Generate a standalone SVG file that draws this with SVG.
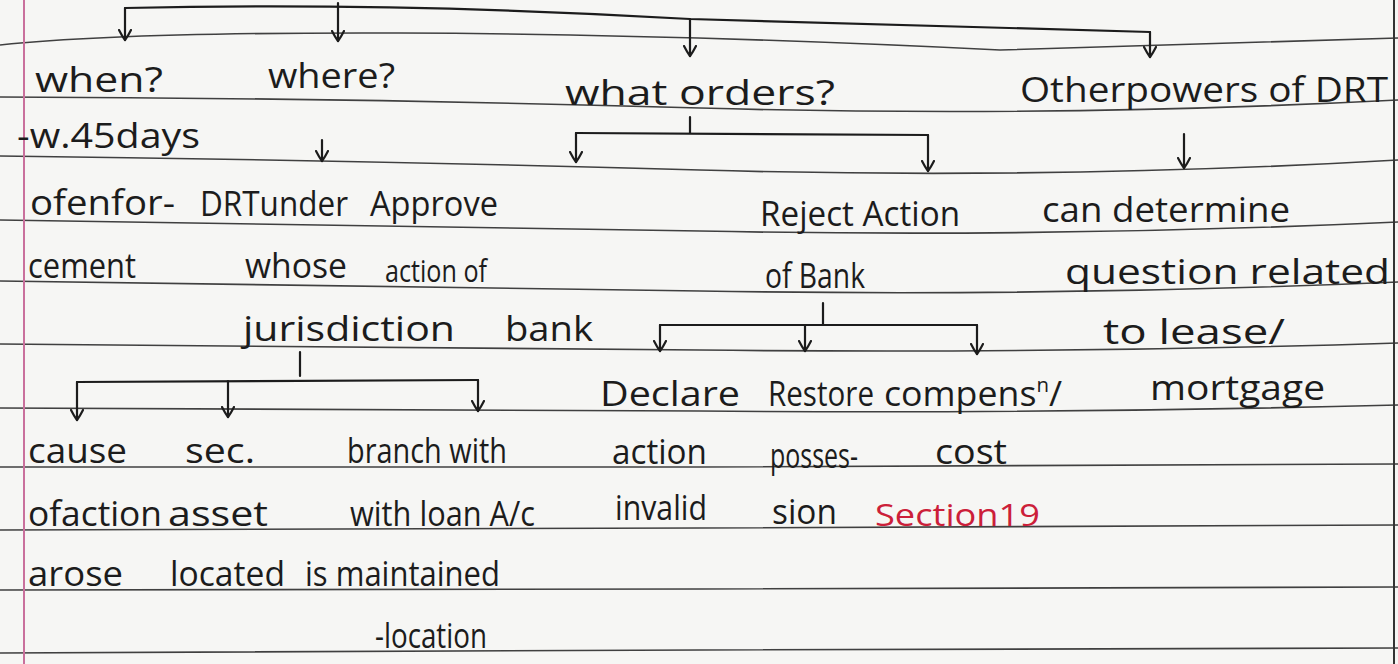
<svg xmlns="http://www.w3.org/2000/svg" width="1398" height="664" viewBox="0 0 1398 664">
<defs>
<marker id="ah" markerWidth="14" markerHeight="14" refX="11" refY="7" orient="auto" markerUnits="userSpaceOnUse" viewBox="0 0 14 14">
<path d="M1,1 Q7,4 11,7 Q7,10 1,13" fill="none" stroke="#1c1c1c" stroke-width="2.2" stroke-linecap="round" stroke-linejoin="round"/>
</marker>
<style>
.rule{fill:none;stroke:#404040;stroke-width:1.6}
.t{font-family:"Open Sans","Liberation Sans",sans-serif;font-size:35px;fill:#1c1c1c;font-weight:400}
.red{fill:#cc1f3a;font-size:31px}
.c{fill:none;stroke:#1c1c1c;stroke-width:2.2;stroke-linecap:round;stroke-linejoin:round}
.a{marker-end:url(#ah)}
</style>
</defs>
<rect width="1398" height="664" fill="#f6f6f4"/>
<g id="paper">
<path class="rule" d="M0,45 Q125,32 400,33 T1000,50 L1398,38"/>
<path class="rule" d="M0,97 Q350,98 700,108 T1398,100"/>
<path class="rule" d="M0,156 Q350,160 700,170 T1398,160"/>
<path class="rule" d="M0,220 Q350,224 700,231 T1398,222"/>
<path class="rule" d="M0,281 Q350,285 700,291 T1398,282"/>
<path class="rule" d="M0,344 Q350,346 700,350 T1398,343"/>
<path class="rule" d="M0,408 Q350,408 700,411 T1398,405"/>
<path class="rule" d="M0,467 Q350,467 700,467 T1398,464"/>
<path class="rule" d="M0,530 Q350,530 700,528 T1398,525"/>
<path class="rule" d="M0,590 Q350,590 700,589 T1398,587"/>
<path class="rule" d="M0,653 Q350,652 700,650 T1398,648"/>
<line x1="24" y1="0" x2="24" y2="664" stroke="#c9709c" stroke-width="2"/>
<line x1="1394" y1="0" x2="1394" y2="664" stroke="#333" stroke-width="2"/>
</g>
<g id="connectors">
<path class="c a" d="M125,8 L125,40"/>
<path class="c" d="M125,8 Q400,2 690,19 L1150,32"/>
<path class="c a" d="M338,3 L338,41"/>
<path class="c a" d="M690,19 L690,56"/>
<path class="c a" d="M1150,32 L1150,57"/>
<path class="c a" d="M322,140 L322,161"/>
<path class="c" d="M690,117 L690,133 M576,133 L928,135"/>
<path class="c a" d="M576,133 L576,162"/>
<path class="c a" d="M928,135 L928,171"/>
<path class="c a" d="M1184,134 L1184,168"/>
<path class="c" d="M300,352 L300,376 M77,382 L478,380"/>
<path class="c a" d="M77,382 L77,420"/>
<path class="c a" d="M228,381 L228,417"/>
<path class="c a" d="M478,380 L478,411"/>
<path class="c" d="M823,303 L823,325 M660,325 L977,325"/>
<path class="c a" d="M660,325 L660,351"/>
<path class="c a" d="M805,326 L805,351"/>
<path class="c a" d="M977,325 L977,354"/>
</g>
<g id="when">
<text class="t" x="35" y="92" textLength="128" lengthAdjust="spacingAndGlyphs">when?</text>
<text class="t" x="17" y="148" textLength="183" lengthAdjust="spacingAndGlyphs">-w.45days</text>
<text class="t" x="30" y="215" textLength="145" lengthAdjust="spacingAndGlyphs">ofenfor-</text>
<text class="t" x="28" y="278" textLength="108" lengthAdjust="spacingAndGlyphs">cement</text>
</g>
<g id="where">
<text class="t" x="268" y="88" textLength="127" lengthAdjust="spacingAndGlyphs">where?</text>
</g>
<g id="drt-jurisdiction">
<text class="t" x="200" y="216" textLength="148" lengthAdjust="spacingAndGlyphs">DRTunder</text>
<text class="t" x="245" y="278" textLength="102" lengthAdjust="spacingAndGlyphs">whose</text>
<text class="t" x="243" y="341" textLength="212" lengthAdjust="spacingAndGlyphs">jurisdiction</text>
</g>
<g id="what-orders">
<text class="t" x="565" y="105" textLength="270" lengthAdjust="spacingAndGlyphs">what orders?</text>
</g>
<g id="other-powers">
<text class="t" x="1020" y="102" textLength="368" lengthAdjust="spacingAndGlyphs">Otherpowers of DRT</text>
</g>
<g id="approve">
<text class="t" x="370" y="216" textLength="128" lengthAdjust="spacingAndGlyphs">Approve</text>
<text class="t" x="385" y="282" textLength="102" lengthAdjust="spacingAndGlyphs" style="font-size:31px">action of</text>
<text class="t" x="505" y="341" textLength="88" lengthAdjust="spacingAndGlyphs">bank</text>
</g>
<g id="reject">
<text class="t" x="760" y="226" textLength="200" lengthAdjust="spacingAndGlyphs">Reject Action</text>
<text class="t" x="765" y="288" textLength="100" lengthAdjust="spacingAndGlyphs">of Bank</text>
</g>
<g id="determine">
<text class="t" x="1042" y="222" textLength="248" lengthAdjust="spacingAndGlyphs">can determine</text>
<text class="t" x="1065" y="284" textLength="325" lengthAdjust="spacingAndGlyphs">question related</text>
<text class="t" x="1103" y="344" textLength="182" lengthAdjust="spacingAndGlyphs">to lease/</text>
<text class="t" x="1150" y="400" textLength="175" lengthAdjust="spacingAndGlyphs">mortgage</text>
</g>
<g id="declare">
<text class="t" x="600" y="406" textLength="140" lengthAdjust="spacingAndGlyphs">Declare</text>
<text class="t" x="612" y="464" textLength="95" lengthAdjust="spacingAndGlyphs">action</text>
<text class="t" x="615" y="520" textLength="92" lengthAdjust="spacingAndGlyphs">invalid</text>
</g>
<g id="restore">
<text class="t" x="768" y="406" textLength="106" lengthAdjust="spacingAndGlyphs">Restore</text>
<text class="t" x="770" y="468" textLength="88" lengthAdjust="spacingAndGlyphs">posses-</text>
<text class="t" x="772" y="524" textLength="65" lengthAdjust="spacingAndGlyphs">sion</text>
</g>
<g id="compensation">
<text class="t" x="884" y="406" textLength="178" lengthAdjust="spacingAndGlyphs">compens<tspan dy="-14" font-size="20">n</tspan><tspan dy="14">/</tspan></text>
<text class="t" x="935" y="464" textLength="72" lengthAdjust="spacingAndGlyphs">cost</text>
</g>
<g id="section19">
<text class="t red" x="875" y="526" textLength="165" lengthAdjust="spacingAndGlyphs">Section19</text>
</g>
<g id="cause">
<text class="t" x="28" y="463" textLength="99" lengthAdjust="spacingAndGlyphs">cause</text>
<text class="t" x="28" y="526" textLength="134" lengthAdjust="spacingAndGlyphs">ofaction</text>
<text class="t" x="28" y="586" textLength="95" lengthAdjust="spacingAndGlyphs">arose</text>
</g>
<g id="asset">
<text class="t" x="185" y="463" textLength="70" lengthAdjust="spacingAndGlyphs">sec.</text>
<text class="t" x="168" y="526" textLength="100" lengthAdjust="spacingAndGlyphs">asset</text>
<text class="t" x="170" y="586" textLength="115" lengthAdjust="spacingAndGlyphs">located</text>
</g>
<g id="branch">
<text class="t" x="347" y="463" textLength="160" lengthAdjust="spacingAndGlyphs">branch with</text>
<text class="t" x="350" y="526" textLength="185" lengthAdjust="spacingAndGlyphs">with loan A/c</text>
<text class="t" x="305" y="586" textLength="195" lengthAdjust="spacingAndGlyphs">is maintained</text>
<text class="t" x="375" y="648" textLength="112" lengthAdjust="spacingAndGlyphs">-location</text>
</g>
</svg>
